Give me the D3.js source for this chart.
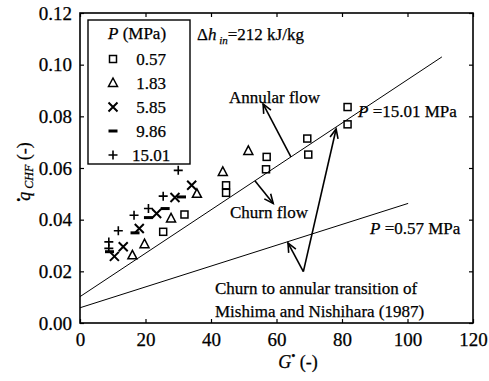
<!DOCTYPE html>
<html>
<head>
<meta charset="utf-8">
<script src="https://cdn.jsdelivr.net/npm/d3@7"></script>
<style>
  html, body { margin: 0; padding: 0; background: #fff; }
  svg { display: block; }
  text { font-family: "Liberation Serif", "Times New Roman", serif; fill: #000; stroke: #000; stroke-width: 0.25px; }
</style>
</head>
<body>
<svg id="chart" width="489" height="381"></svg>
<script>
// CHF data by system pressure: [G*, q*CHF]
const p057 = [[25.4, 0.0353], [31.9, 0.0420], [44.6, 0.0533], [44.6, 0.0504], [56.8, 0.0595],
              [57.0, 0.0643], [69.7, 0.0652], [69.4, 0.0714], [81.7, 0.0769], [81.7, 0.0836]];
const p183 = [[16.0, 0.0262], [19.7, 0.0305], [27.8, 0.0405], [35.7, 0.0500], [43.6, 0.0585], [51.4, 0.0666]];
const p585 = [[10.5, 0.0258], [13.2, 0.0295], [18.1, 0.0366], [23.4, 0.0424], [29.0, 0.0486], [34.1, 0.0533]];
const p986 = [[9.0, 0.0276], [16.8, 0.0349], [20.9, 0.0408], [26.0, 0.0443], [31.0, 0.0488]];
const p1501 = [[8.8, 0.0314], [8.8, 0.0289], [11.7, 0.0357], [16.5, 0.0417], [20.9, 0.0443], [25.4, 0.0491], [30.0, 0.0591]];

const legendLabels = ["0.57", "1.83", "5.85", "9.86", "15.01"];
const xTicks = [0, 20, 40, 60, 80, 100, 120];
const yTicks = [0, 0.02, 0.04, 0.06, 0.08, 0.10, 0.12];

// Mishima-Nishihara churn-to-annular transition lines
const lineP1501 = [[0, 0.0102], [110.5, 0.1030]];
const lineP057 = [[0, 0.0059], [100.2, 0.0463]];

// annotation arrows: [from, tip] in data units
const arrowAnnular = [[64.4, 0.0643], [55.9, 0.0848]];
const arrowChurn = [[53.4, 0.0551], [59.0, 0.0463]];
const arrowTransUp = [[68.2, 0.0199], [78.2, 0.0751]];
const arrowTransLow = [[68.2, 0.0199], [63.5, 0.0310]];

const svg = d3.select("#chart");
const x = d3.scaleLinear().domain([0, 120]).range([80, 473]);
const y = d3.scaleLinear().domain([0, 0.12]).range([323, 13]);
const serif = "Liberation Serif, Times New Roman, serif";

// frame
svg.append("rect").attr("x", 80).attr("y", 13).attr("width", 393).attr("height", 310)
  .attr("fill", "none").attr("stroke", "#000").attr("stroke-width", 1.6);

// axes with inward ticks
const xAxis = svg.append("g").attr("transform", "translate(0,323)")
  .call(d3.axisBottom(x).tickValues(xTicks).tickSize(-4).tickPadding(10).tickFormat(d3.format("d")));
const yAxis = svg.append("g").attr("transform", "translate(80,0)")
  .call(d3.axisLeft(y).tickValues(yTicks).tickSize(-4).tickPadding(8).tickFormat(d3.format(".2f")));
svg.append("g").attr("transform", "translate(473,0)")
  .call(d3.axisRight(y).tickValues(yTicks).tickSize(-4).tickFormat(""));
svg.append("g").attr("transform", "translate(0,13)")
  .call(d3.axisTop(x).tickValues(xTicks).tickSize(-4).tickFormat(""));
svg.selectAll(".domain").remove();
svg.selectAll(".tick line").attr("stroke", "#000").attr("stroke-width", 1.2);
[xAxis, yAxis].forEach(a => a.attr("font-family", serif).attr("font-size", 19));
xAxis.selectAll("text").attr("dy", "0.71em");
svg.selectAll(".tick text").attr("fill", "#000");

// transition lines
const line = d3.line().x(d => x(d[0])).y(d => y(d[1]));
[lineP1501, lineP057].forEach(l => {
  svg.append("path").attr("d", line(l)).attr("fill", "none").attr("stroke", "#000").attr("stroke-width", 1);
});

// arrows with open heads
function arrow(a) {
  const [x0, y0] = [x(a[0][0]), y(a[0][1])];
  const [x1, y1] = [x(a[1][0]), y(a[1][1])];
  svg.append("line").attr("x1", x0).attr("y1", y0).attr("x2", x1).attr("y2", y1)
    .attr("stroke", "#000").attr("stroke-width", 1.6);
  const ang = Math.atan2(y1 - y0, x1 - x0);
  const L = 10, w = 0.42;
  const p = [[x1 - L * Math.cos(ang - w), y1 - L * Math.sin(ang - w)], [x1, y1],
             [x1 - L * Math.cos(ang + w), y1 - L * Math.sin(ang + w)]];
  svg.append("path").attr("d", d3.line()(p)).attr("fill", "none")
    .attr("stroke", "#000").attr("stroke-width", 1.6);
}
arrow(arrowAnnular);
arrow(arrowChurn);
arrow(arrowTransUp);
arrow(arrowTransLow);

// marker shapes
const mk = {
  square: (g) => g.append("rect").attr("x", -3.5).attr("y", -3.5).attr("width", 7).attr("height", 7)
    .attr("fill", "none").attr("stroke", "#000").attr("stroke-width", 1.5),
  triangle: (g) => g.append("path").attr("d", "M0,-5L4.5,3.5L-4.5,3.5Z")
    .attr("fill", "none").attr("stroke", "#000").attr("stroke-width", 1.5),
  times: (g) => g.append("path").attr("d", "M-4.5,-4.5L4.5,4.5M-4.5,4.5L4.5,-4.5")
    .attr("fill", "none").attr("stroke", "#000").attr("stroke-width", 2),
  dash: (g) => g.append("path").attr("d", "M-4.5,0L4.5,0")
    .attr("fill", "none").attr("stroke", "#000").attr("stroke-width", 3),
  plus: (g) => g.append("path").attr("d", "M-4.5,0L4.5,0M0,-4.5L0,4.5")
    .attr("fill", "none").attr("stroke", "#000").attr("stroke-width", 1.6)
};
const series = [[p057, "square"], [p183, "triangle"], [p585, "times"], [p986, "dash"], [p1501, "plus"]];
series.forEach(([data, shape]) => {
  svg.append("g").selectAll("g").data(data).join("g")
    .attr("transform", d => `translate(${x(d[0])},${y(d[1])})`)
    .each(function () { mk[shape](d3.select(this)); });
});

// legend
const lg = svg.append("g");
lg.append("rect").attr("x", 88).attr("y", 20).attr("width", 102).attr("height", 144)
  .attr("fill", "#fff").attr("stroke", "#000").attr("stroke-width", 1.4);
const lt = lg.append("text").attr("x", 108).attr("y", 39).attr("font-size", 17);
lt.append("tspan").attr("font-style", "italic").text("P");
lt.append("tspan").text(" (MPa)");
series.forEach(([data, shape], i) => {
  const cy = 59 + i * 24;
  mk[shape](lg.append("g").attr("transform", `translate(113,${cy})`));
  lg.append("text").attr("x", 151).attr("y", cy + 6).attr("font-size", 17)
    .attr("text-anchor", "middle").text(legendLabels[i]);
});

// annotations
const ann = (tx, ty, size) => svg.append("text").attr("x", tx).attr("y", ty).attr("font-size", size);
const dh = ann(197, 40, 17);
dh.append("tspan").text("\u0394");
dh.append("tspan").attr("font-style", "italic").text("h");
dh.append("tspan").attr("font-size", 11).attr("font-style", "italic").attr("dy", 4).text(" in");
dh.append("tspan").attr("dy", -4).text("=212 kJ/kg");

ann(229, 103, 17).text("Annular flow");
const p1 = ann(358, 117, 17);
p1.append("tspan").attr("font-style", "italic").text("P");
p1.append("tspan").text(" =15.01 MPa");
ann(230, 218, 17).text("Churn flow");
const p2 = ann(370, 234, 17);
p2.append("tspan").attr("font-style", "italic").text("P");
p2.append("tspan").text(" =0.57 MPa");
ann(215, 294, 17).text("Churn to annular transition of");
ann(215, 317, 17).text("Mishima and Nishihara (1987)");

// axis titles
const yt = svg.append("text").attr("transform", "translate(30,172) rotate(-90)")
  .attr("text-anchor", "middle").attr("font-size", 18);
yt.append("tspan").attr("font-size", 12).attr("dy", -7).text("\u2022");
yt.append("tspan").attr("font-style", "italic").attr("dy", 7).attr("dx", -3).text("q");
yt.append("tspan").attr("font-style", "italic").attr("font-size", 12).attr("dy", 3).text(" CHF");
yt.append("tspan").attr("dy", -3).text(" (-)");

const xt = svg.append("text").attr("x", 298).attr("y", 368).attr("text-anchor", "middle").attr("font-size", 18);
xt.append("tspan").attr("font-style", "italic").text("G");
xt.append("tspan").attr("font-size", 12).attr("dy", -8).text("\u2022");
xt.append("tspan").attr("dy", 8).text(" (-)");
</script>
</body>
</html>
